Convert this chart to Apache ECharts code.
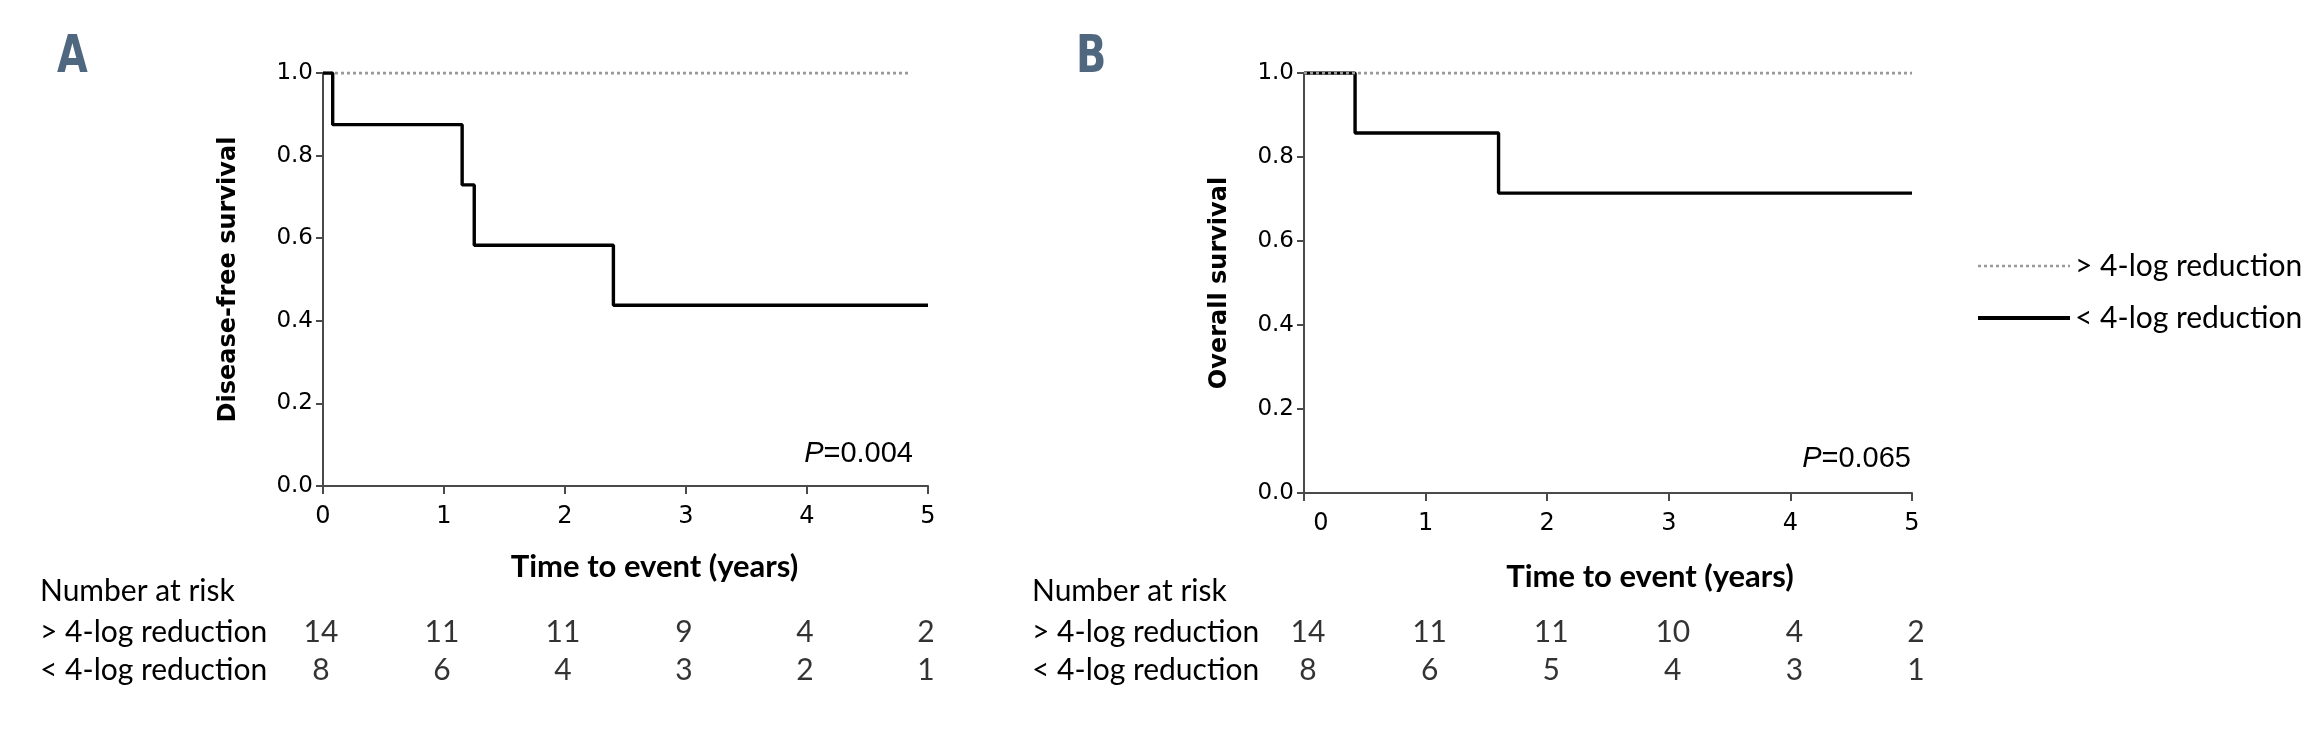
<!DOCTYPE html>
<html><head><meta charset="utf-8">
<script src="https://cdn.jsdelivr.net/npm/echarts@6/dist/echarts.min.js"></script>
<style>html,body{margin:0;padding:0;background:#fff}#c{width:2315px;height:729px}</style>
</head><body><div id="c"></div>
<script>
// ---- data ----
const seriesNames = ['> 4-log reduction', '< 4-log reduction'];
const dfsHighTimes = [0, 4.86];
const dfsHighSurv  = [1, 1];
const dfsLowTimes  = [0, 0.08, 1.15, 1.25, 2.4, 5];
const dfsLowSurv   = [1, 0.875, 0.729, 0.583, 0.4375, 0.4375];
const osHighTimes  = [0, 5];
const osHighSurv   = [1, 1];
const osLowTimes   = [0, 0.42, 1.6, 5];
const osLowSurv    = [1, 0.857, 0.714, 0.714];
const riskTimes    = [0, 1, 2, 3, 4, 5];
const dfsRiskHigh  = [14, 11, 11, 9, 4, 2];
const dfsRiskLow   = [8, 6, 4, 3, 2, 1];
const osRiskHigh   = [14, 11, 11, 10, 4, 2];
const osRiskLow    = [8, 6, 5, 4, 3, 1];
const riskRowLabels = ['> 4-log reduction', '< 4-log reduction'];

// ---- helpers ----
const FONT = 'Lato';
const TICKFONT = 'DejaVu Sans';
const AXC = '#4a4a4a';
const zip = (xs, ys) => xs.map((x, i) => [x, ys[i]]);
const riskData = (hi, lo) => riskTimes.map((t, i) => [t, 0, hi[i]]).concat(riskTimes.map((t, i) => [t, 1, lo[i]]));

function plotX(gi, nameGap, namePad, zeroPad) {
  return {
    type: 'value', gridIndex: gi, min: 0, max: 5, interval: 1,
    name: 'Time to event (years)', nameLocation: 'middle', nameGap: nameGap,
    nameTextStyle: { fontFamily: FONT, fontWeight: 'bold', fontSize: 31, color: '#000', verticalAlign: 'middle', padding: [0, 0, 0, namePad] },
    axisLine: { lineStyle: { color: AXC, width: 2 } },
    axisTick: { length: 8, lineStyle: { color: AXC, width: 2 } },
    axisLabel: { fontFamily: TICKFONT, fontSize: 24, color: '#000', margin: 19,
      formatter: v => (v === 0 && zeroPad ? '{z|0}' : String(v)),
      rich: { z: { fontFamily: TICKFONT, fontSize: 24, color: '#000', padding: [0, 0, 0, zeroPad || 0] } } },
    splitLine: { show: false }
  };
}
function plotY(gi, name, nameGap, namePad) {
  return {
    type: 'value', gridIndex: gi, min: 0, max: 1, interval: 0.2,
    name: name, nameLocation: 'middle', nameGap: nameGap,
    nameTextStyle: { fontFamily: 'DejaVu Sans', fontWeight: 'bold', fontSize: 24, color: '#000', verticalAlign: 'middle', padding: namePad },
    axisLine: { show: true, lineStyle: { color: AXC, width: 2 } },
    axisTick: { show: true, length: 7, lineStyle: { color: AXC, width: 2 } },
    axisLabel: { fontFamily: TICKFONT, fontSize: 23, color: '#000', margin: 10, formatter: v => v.toFixed(1) },
    splitLine: { show: false }
  };
}
function riskX(gi) {
  return { type: 'value', gridIndex: gi, min: 0, max: 5, interval: 1, show: false };
}
function riskY(gi, margin) {
  return {
    type: 'category', gridIndex: gi, data: riskRowLabels, inverse: true,
    axisLine: { show: false }, axisTick: { show: false },
    axisLabel: { interval: 0, hideOverlap: false, fontFamily: FONT, fontSize: 30, color: '#000', align: 'left', margin: margin }
  };
}
const solid = { color: '#000', width: 3.4 };
const dotted = { color: '#999999', width: 3, type: [3, 3] };
function km(name, xi, data, ls, z) {
  return { type: 'line', name: name, xAxisIndex: xi, yAxisIndex: xi, data: data, step: 'end',
    symbol: 'none', lineStyle: ls, itemStyle: { color: ls.color }, z: z, animation: false, silent: true };
}
function risk(xi, data, dx) {
  return { type: 'scatter', xAxisIndex: xi, yAxisIndex: xi, data: data, symbolSize: 1,
    itemStyle: { color: 'transparent' }, silent: true, animation: false,
    label: { show: true, position: 'inside', offset: [dx, 0], formatter: p => String(p.value[2]),
      fontFamily: FONT, fontSize: 30, color: '#000' } };
}
const pStyle = t => ({ text: t, align: 'right', verticalAlign: 'middle', fontFamily: 'Liberation Sans', fontSize: 29, fill: '#000',
  rich: { i: { fontStyle: 'italic', fontFamily: 'Liberation Sans', fontSize: 29, fill: '#000' } } });
const panelStyle = t => ({ text: t, fontFamily: 'DejaVu Sans Condensed', fontWeight: 'bold', fontSize: 52, fill: '#4f6880', verticalAlign: 'middle' });

const chart = echarts.init(document.getElementById('c'), null, { renderer: 'canvas' });
chart.setOption({
  backgroundColor: '#fff',
  animation: false,
  grid: [
    { left: 323, top: 73, width: 605, height: 413 },
    { left: 1304, top: 73, width: 608, height: 420 },
    { left: 323, top: 613, width: 605, height: 76 },
    { left: 1304, top: 613, width: 608, height: 76 }
  ],
  xAxis: [plotX(0, 81, 58, 0), plotX(1, 84, 84, 34), riskX(2), riskX(3)],
  yAxis: [plotY(0, 'Disease-free survival', 94, [0, 0, 0, 0]), plotY(1, 'Overall survival', 84, [12, 0, 0, 0]), riskY(2, 283), riskY(3, 272)],
  legend: {
    data: [
      { name: seriesNames[0], lineStyle: { width: 2.6 } },
      { name: seriesNames[1], lineStyle: { width: 4 } }
    ],
    orient: 'vertical', left: 1976, top: 250, padding: 0, itemWidth: 92, itemHeight: 2, itemGap: 20,
    itemStyle: { opacity: 0 },
    textStyle: { fontFamily: FONT, fontSize: 30, color: '#000', lineHeight: 32 }, selectedMode: false
  },
  series: [
    km(seriesNames[0], 0, zip(dfsHighTimes, dfsHighSurv), dotted, 2),
    km(seriesNames[1], 0, zip(dfsLowTimes, dfsLowSurv), solid, 3),
    km(seriesNames[1], 1, zip(osLowTimes, osLowSurv), solid, 2),
    km(seriesNames[0], 1, zip(osHighTimes, osHighSurv), dotted, 3),
    risk(2, riskData(dfsRiskHigh, dfsRiskLow), -2),
    risk(3, riskData(osRiskHigh, osRiskLow), 4)
  ],
  graphic: [
    { type: 'text', x: 57, y: 58, scaleX: 0.85, style: panelStyle('A') },
    { type: 'text', x: 1076, y: 58, scaleX: 0.85, style: panelStyle('B') },
    { type: 'text', x: 913, y: 454, style: pStyle('{i|P}=0.004') },
    { type: 'text', x: 1911, y: 459, style: pStyle('{i|P}=0.065') },
    { type: 'text', x: 40, y: 591, style: { text: 'Number at risk', verticalAlign: 'middle', fontFamily: FONT, fontSize: 30, fill: '#000' } },
    { type: 'text', x: 1032, y: 591, style: { text: 'Number at risk', verticalAlign: 'middle', fontFamily: FONT, fontSize: 30, fill: '#000' } }
  ]
});
</script></body></html>
